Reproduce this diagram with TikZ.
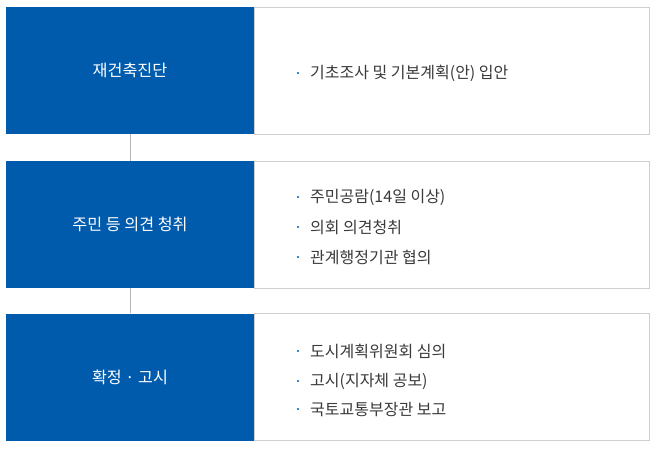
\documentclass[tikz,border=0pt]{standalone}
\usepackage{fontspec}
\setmainfont{Noto Sans CJK KR}
\definecolor{stageblue}{HTML}{005BAC}
\definecolor{framegray}{HTML}{CFCFCF}
\definecolor{itemgray}{HTML}{3A3A3A}
\definecolor{linkgray}{HTML}{B5B5B5}
\tikzset{
 stagebox/.style={fill=stageblue, text=white, inner sep=0pt, minimum width=248pt, minimum height=127pt, font=\fontsize{16.2}{19}\selectfont},
 detailbox/.style={draw=framegray, fill=white, inner sep=0pt, anchor=west, minimum width=395pt, minimum height=127pt},
 itemtext/.style={anchor=west, inner sep=0pt, text=itemgray, font=\fontsize{16}{19}\selectfont},
 bulletdot/.style={circle, fill=stageblue, inner sep=0pt, minimum size=2.2pt},
 link/.style={draw=linkgray, line width=0.8pt}
}
\begin{document}
\begin{tikzpicture}[x=1pt, y=-1pt]
 \useasboundingbox (0,0) rectangle (658,448);
 \node [stagebox] (s1) at (130,70.5) {재건축진단};
 \node [stagebox] (s2) at (130,224.5) {주민 등 의견 청취};
 \node [stagebox] (s3) at (130,377) {확정 · 고시};
 \node [detailbox] (d1) at (s1.east) {};
 \node [detailbox] (d2) at (s2.east) {};
 \node [detailbox] (d3) at (s3.east) {};
 \draw [link] (s1.south) -- (s2.north);
 \draw [link] (s2.south) -- (s3.north);
 % 재건축진단
 \node [bulletdot] (b11) at (298,73) {};
 \node [itemtext] (t11) at (310,73) {기초조사 및 기본계획(안) 입안};
 % 주민 등 의견 청취
 \node [bulletdot] (b21) at (298,197) {};
 \node [itemtext] (t21) at (310,197) {주민공람(14일 이상)};
 \node [bulletdot] (b22) at (298,227) {};
 \node [itemtext] (t22) at (310,227) {의회 의견청취};
 \node [bulletdot] (b23) at (298,257) {};
 \node [itemtext] (t23) at (310,257) {관계행정기관 협의};
 % 확정 · 고시
 \node [bulletdot] (b31) at (298,351) {};
 \node [itemtext] (t31) at (310,351) {도시계획위원회 심의};
 \node [bulletdot] (b32) at (298,381) {};
 \node [itemtext] (t32) at (310,381) {고시(지자체 공보)};
 \node [bulletdot] (b33) at (298,409) {};
 \node [itemtext] (t33) at (310,409) {국토교통부장관 보고};
\end{tikzpicture}
\end{document}
